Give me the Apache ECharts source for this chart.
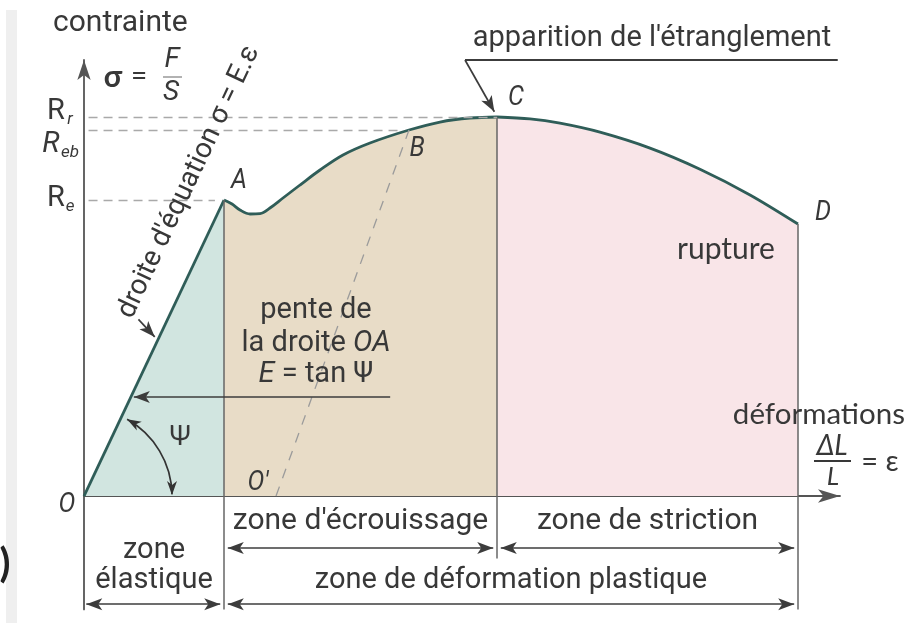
<!DOCTYPE html>
<html>
<head>
<meta charset="utf-8">
<title>Courbe contrainte - déformation</title>
<script src="https://cdn.jsdelivr.net/npm/echarts@6/dist/echarts.min.js"></script>
<style>
  html, body { margin: 0; padding: 0; background: #ffffff; }
  #chart { width: 908px; height: 623px; }
</style>
</head>
<body>
<div id="chart"></div>
<script>
// Tensile test curve, strain (x) and stress (y) in arbitrary units.

// Elastic part O -> A
const elasticStrain = [0, 18.52];
const elasticStress = [0, 67.89];

// Strain hardening A -> B -> C (index 12 is B, last is C)
const hardeningStrain = [18.52, 19.58, 20.63, 21.96, 23.28, 24.60, 26.32, 28.57, 31.22, 34.26, 37.83, 42.99, 47.09, 51.06, 54.63];
const hardeningStress = [67.89, 66.97, 65.60, 64.68, 64.79, 66.06, 68.35, 71.33, 74.77, 78.21, 80.96, 83.94, 85.78, 86.70, 86.93];
const indexB = 11;

// Necking C -> D (rupture)
const neckingStrain = [54.63, 58.99, 62.96, 68.25, 74.87, 81.48, 88.10, 94.44];
const neckingStress = [86.93, 86.49, 85.50, 83.44, 79.79, 74.95, 69.06, 62.39];

// Unloading line origin O'
const unloadStrainOrigin = 25.4;

// Axis ranges
const strainRange = [0, 100];
const stressRange = [-26, 100];

// Texts
const levelNames = ['R', 'R', 'R'];
const levelSubs = ['r', 'eb', 'e'];
const pointNames = ['O', 'A', 'B', 'C', 'D', "O'"];
const zoneTexts = ["zone d'écrouissage", 'zone de striction', 'zone\nélastique', 'zone de déformation plastique'];

const zip = (xs, ys) => xs.map((x, i) => [x, ys[i]]);
const pO = [elasticStrain[0], elasticStress[0]];
const pA = [elasticStrain[1], elasticStress[1]];
const pB = [hardeningStrain[indexB], hardeningStress[indexB]];
const pC = [hardeningStrain[hardeningStrain.length - 1], hardeningStress[hardeningStress.length - 1]];
const pD = [neckingStrain[neckingStrain.length - 1], neckingStress[neckingStress.length - 1]];
const pO2 = [unloadStrainOrigin, 0];
const levels = [pC[1], pB[1], pA[1]];
const levelEnds = [pC[0], pB[0] - 1.5, pA[0] - 1.2];

const CURVE = '#2f5d58';
const INK = '#383838';
const AXIS = '#555555';
const SANS = 'Roboto, "Liberation Sans", sans-serif';
const HUMAN = 'Lato, "Open Sans", sans-serif';

// rows of the zone arrows, below the strain axis
const rowUpper = -11.9;
const rowLower = -24.8;
const gap = 0.5;

const chart = echarts.init(document.getElementById('chart'), null, { renderer: 'canvas' });

const arrowLine = (a, b, both) => [
  { coord: a, symbol: both ? 'arrow' : 'none' },
  { coord: b, symbol: 'arrow' }
];

const option = {
  animation: false,
  backgroundColor: '#ffffff',
  grid: { left: 84, right: 68, top: 60, bottom: 13.6 },
  xAxis: {
    type: 'value', min: strainRange[0], max: strainRange[1],
    axisLine: { show: true, onZero: true, symbol: ['none', 'arrow'], symbolSize: [10, 22], lineStyle: { color: AXIS, width: 1.8 } },
    axisTick: { show: false }, axisLabel: { show: false }, splitLine: { show: false }
  },
  yAxis: {
    type: 'value', min: stressRange[0], max: stressRange[1],
    axisLine: { show: true, onZero: true, symbol: ['none', 'arrow'], symbolSize: [10, 20], lineStyle: { color: AXIS, width: 1.8 } },
    axisTick: { show: false }, axisLabel: { show: false }, splitLine: { show: false }
  },
  series: [
    { // elastic zone fill + line O-A
      type: 'line', data: zip(elasticStrain, elasticStress), symbol: 'none', z: 3,
      lineStyle: { color: CURVE, width: 2.8 },
      areaStyle: { color: '#d1e5e0', opacity: 1 }
    },
    { // strain hardening zone
      type: 'line', data: zip(hardeningStrain, hardeningStress), symbol: 'none', smooth: 0.35, z: 3,
      lineStyle: { color: CURVE, width: 2.8 },
      areaStyle: { color: '#e8dcc7', opacity: 1 }
    },
    { // necking zone
      type: 'line', data: zip(neckingStrain, neckingStress), symbol: 'none', smooth: 0.3, z: 3,
      lineStyle: { color: CURVE, width: 2.8 },
      areaStyle: { color: '#f9e5e8', opacity: 1 }
    },
    { // zone boundaries, reference levels and unloading line
      type: 'line', data: [], z: 2,
      markLine: {
        silent: true, animation: false, symbol: 'none',
        label: { show: false },
        lineStyle: { color: '#666', width: 1.5, type: 'solid' },
        data: [
          [{ coord: pA }, { coord: [pA[0], stressRange[0]] }],
          [{ coord: pC }, { coord: [pC[0], rowUpper - 2.4] }],
          [{ coord: pD }, { coord: [pD[0], stressRange[0]] }],
          [{ coord: [0.6, levels[0]], lineStyle: { color: '#a9a9a9', type: [9, 6], width: 1.4 } }, { coord: [levelEnds[0], levels[0]] }],
          [{ coord: [0.6, levels[1]], lineStyle: { color: '#a9a9a9', type: [9, 6], width: 1.4 } }, { coord: [levelEnds[1], levels[1]] }],
          [{ coord: [0.6, levels[2]], lineStyle: { color: '#a9a9a9', type: [9, 6], width: 1.4 } }, { coord: [levelEnds[2], levels[2]] }],
          [{ coord: pO2, lineStyle: { color: '#9b9b9b', type: [10, 9], width: 1.3 } }, { coord: pB }]
        ]
      }
    },
    { // arrows
      type: 'line', data: [], z: 4,
      markLine: {
        silent: true, animation: false,
        symbolSize: [9, 16],
        label: { show: false },
        lineStyle: { color: '#505050', width: 2, type: 'solid' },
        data: [
          arrowLine([pA[0] + gap, rowUpper], [pC[0] - gap, rowUpper], true),
          arrowLine([pC[0] + gap, rowUpper], [pD[0] - gap, rowUpper], true),
          arrowLine([0.3, rowLower], [pA[0] - gap, rowLower], true),
          arrowLine([pA[0] + gap, rowLower], [pD[0] - gap, rowLower], true),
          // slope E = tan Ψ pointer towards O-A
          arrowLine([40.5, 22.7], [22.7 * pA[0] / pA[1] + 0.4, 22.7], false),
          // necking onset pointer towards C
          arrowLine([50.4, 100], [pC[0] - 0.35, pC[1] + 1.2], false),
          // "droite" pointer towards O-A
          arrowLine([7.2, 40.5], [36.5 * pA[0] / pA[1] - 0.6, 36.5], false)
        ].map(d => { d[0].lineStyle = { color: '#3c3c3c', width: 1.7 }; return d; })
      }
    },
    { // underline of the necking note
      type: 'line', data: [], z: 4,
      markLine: {
        silent: true, animation: false, symbol: 'none', label: { show: false },
        lineStyle: { color: '#3c3c3c', width: 1.8, type: 'solid' },
        data: [[{ coord: [50.4, 100] }, { coord: [99.7, 100] }]]
      }
    }
  ]
};

chart.setOption(option);

const px = p => chart.convertToPixel({ gridIndex: 0 }, p);

function text(str, x, y, size, opts) {
  const o = opts || {};
  return {
    type: 'text', x: x, y: y, z: 20,
    rotation: o.rotation || 0,
    scaleX: o.scaleX || 1,
    style: {
      text: str,
      font: (o.style || 'normal') + ' ' + (o.weight || 'normal') + ' ' + size + 'px ' + (o.family || SANS),
      fill: o.color || INK,
      align: o.align || 'center', verticalAlign: o.valign || 'middle',
      textAlign: o.align || 'center', textVerticalAlign: o.valign || 'middle',
      lineHeight: o.lineHeight || size * 1.15
    }
  };
}

const O = px(pO), A = px(pA), B = px(pB), C = px(pC), D = px(pD), O2 = px(pO2);
const graphics = [];

// page frame details
graphics.push({ type: 'rect', shape: { x: 6, y: 10, width: 11, height: 613 }, style: { fill: '#efefef' }, z: 0 });
graphics.push(text(')', 5, 564, 40, { family: HUMAN, color: '#222', weight: 'bold' }));

// axis titles
graphics.push(text('contrainte', 53, 23, 30, { align: 'left' }));
graphics.push(text('σ', 113, 77, 30, { family: HUMAN, weight: 'bold' }));
graphics.push(text('=', 139, 76, 28, { family: HUMAN }));
graphics.push(text('F', 172, 60, 28, { style: 'italic' }));
graphics.push(text('S', 171, 93, 28, { style: 'italic' }));
graphics.push({ type: 'line', shape: { x1: 163, y1: 77, x2: 182, y2: 77 }, style: { stroke: '#888', lineWidth: 1.3 }, z: 20 });

graphics.push(text('déformations', 905, 414, 29.5, { family: HUMAN, align: 'right' }));
graphics.push(text('ΔL', 832, 446, 28, { family: HUMAN, style: 'italic' }));
graphics.push({ type: 'line', shape: { x1: 814, y1: 461, x2: 851, y2: 461 }, style: { stroke: INK, lineWidth: 1.8 }, z: 20 });
graphics.push(text('L', 833, 477, 26, { family: HUMAN, style: 'italic' }));
graphics.push(text('= ε', 880, 462, 29, { family: HUMAN }));

// reference levels
levels.forEach((v, i) => {
  const y = px([0, v])[1];
  const dy = [-5, 15, -1][i];
  graphics.push(text(levelNames[i], i === 1 ? 51 : 56, y + dy, 29, { style: i === 1 ? 'italic' : 'normal' }));
  graphics.push(text(levelSubs[i], 70, y + dy + 8, 17, { style: 'italic' }));
});

// point labels
const labelAt = (name, p, dx, dy) => graphics.push(text(name, p[0] + dx, p[1] + dy, 28, { style: 'italic', scaleX: 0.9 }));
labelAt(pointNames[0], O, -17, 9);
labelAt(pointNames[1], A, 15, -19);
labelAt(pointNames[2], B, 8, 19);
labelAt(pointNames[3], C, 19, -19);
labelAt(pointNames[4], D, 25, -11);
labelAt(pointNames[5], O2, -18, -13);

// elastic line equation, written along O-A
const slopeAngle = Math.atan2(O[1] - A[1], A[0] - O[0]);
graphics.push(text("droite d'équation σ = E.ε", 189, 182, 28, { rotation: slopeAngle }));

// slope note
const rich = (size) => ({ n: { font: 'normal ' + size + 'px ' + SANS, fill: INK }, i: { font: 'italic ' + size + 'px ' + SANS, fill: INK } });
graphics.push(text('pente de', 316, 311, 29));
graphics.push({
  type: 'text', x: 316, y: 344, z: 20,
  style: { text: '{n|la droite }{i|OA}', align: 'center', verticalAlign: 'middle', rich: rich(29) }
});
graphics.push({
  type: 'text', x: 316, y: 375, z: 20,
  style: { text: '{i|E}{n| = tan Ψ}', align: 'center', verticalAlign: 'middle', rich: rich(29) }
});

// angle Ψ between O-A and the strain axis
const r = 88;
const a0 = -slopeAngle + 0.07;
graphics.push({ type: 'arc', shape: { cx: O[0], cy: O[1], r: r, startAngle: a0, endAngle: -0.02, clockwise: true }, style: { stroke: '#333', lineWidth: 1.7, fill: null }, z: 20 });
function head(tipX, tipY, dirX, dirY) {
  const len = 14, half = 5;
  const bx = tipX - dirX * len, by = tipY - dirY * len;
  return {
    type: 'polygon', z: 21,
    shape: { points: [[tipX, tipY], [bx - dirY * half, by + dirX * half], [bx + dirX * 4, by + dirY * 4], [bx + dirY * half, by - dirX * half]] },
    style: { fill: '#333' }
  };
}
graphics.push(head(O[0] + r * Math.cos(a0), O[1] + r * Math.sin(a0), Math.sin(a0), -Math.cos(a0)));
graphics.push(head(O[0] + r, O[1] - 1, 0, 1));
graphics.push(text('Ψ', 180, 437, 26, { family: HUMAN }));

// notes
graphics.push(text("apparition de l'étranglement", 652, 39, 29));
graphics.push(text('rupture', 726, 249, 30, { family: HUMAN }));

// zone names
const xa = px([pA[0], 0])[0], xc = px([pC[0], 0])[0], xd = px([pD[0], 0])[0];
graphics.push(text(zoneTexts[0], (xa + xc) / 2, 521, 30));
graphics.push(text(zoneTexts[1], (xc + xd) / 2, 521, 30));
graphics.push(text(zoneTexts[2], (O[0] + xa) / 2, 566, 29, { lineHeight: 30 }));
graphics.push(text(zoneTexts[3], (xa + xd) / 2, 581, 29));

chart.setOption({ graphic: graphics });
</script>
</body>
</html>
